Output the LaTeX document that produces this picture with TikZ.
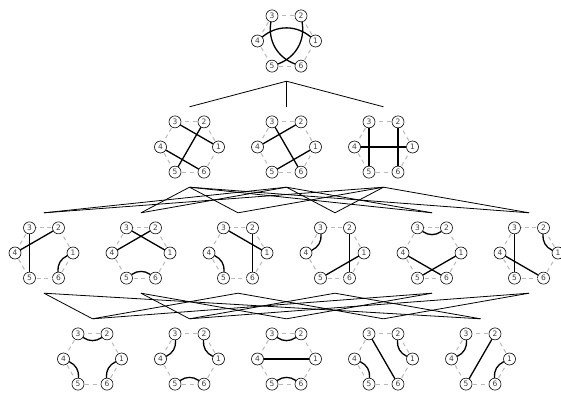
\documentclass[tikz,border=0pt]{standalone}
\usepackage{fontspec}
\setsansfont{DejaVu Sans}
\usepackage{tikz}
\usetikzlibrary{calc}

% one hexagon of six numbered points, named #1-1 ... #1-6
\newcommand{\hexgraph}[2]{%
  \node[graphbox] (#1) at (#2) {};
  \foreach \k in {1,...,6}
    \node[vtx] (#1-\k) at ($(#1)+({(\k-1)*60}:29pt)$) {\k};
  \foreach \k [evaluate=\k as \n using {int(mod(\k,6)+1)}] in {1,...,6}
    \draw[rim] (#1-\k) -- (#1-\n);
}

\begin{document}
\begin{tikzpicture}[x=1pt, y=-1pt,
  graphbox/.style={minimum width=70pt, minimum height=80pt, inner sep=0pt},
  vtx/.style={draw, circle, fill=white, minimum size=12pt, inner sep=0pt, line width=0.6pt,
    font=\sffamily\fontsize{7.5}{8}\selectfont, text=black!75},
  rim/.style={gray!55, line width=1pt, dash pattern=on 4pt off 3.5pt, dash phase=-1pt},
  chord/.style={line width=1.3pt},
  inbend/.style={bend left=35},
  longbend/.style={bend left=40},
  link/.style={line width=0.8pt}
]
  \useasboundingbox (0,0) rectangle (561,393);

  % Top
  \hexgraph{t}{286.5,41}
  \draw[chord] (t-4) to[longbend] (t-1);
  \draw[chord] (t-6) to[longbend] (t-3);
  \draw[chord] (t-2) to[longbend] (t-5);

  % Second row
  \hexgraph{a}{189.5,147}
  \foreach \p/\q in {1/3,2/5,4/6} \draw[chord] (a-\p) -- (a-\q);
  \hexgraph{b}{286.5,147}
  \foreach \p/\q in {3/6,2/4,1/5} \draw[chord] (b-\p) -- (b-\q);
  \hexgraph{c}{383.5,147}
  \foreach \p/\q in {3/5,2/6,4/1} \draw[chord] (c-\p) -- (c-\q);

  % Third row
  \hexgraph{g1}{44,253}
  \foreach \p/\q in {3/5,2/4} \draw[chord] (g1-\p) -- (g1-\q);
  \draw[chord] (g1-6) to[inbend] (g1-1);
  \hexgraph{g2}{141,253}
  \foreach \p/\q in {1/3,2/4} \draw[chord] (g2-\p) -- (g2-\q);
  \draw[chord] (g2-5) to[inbend] (g2-6);
  \hexgraph{g3}{238,253}
  \foreach \p/\q in {1/3,2/6} \draw[chord] (g3-\p) -- (g3-\q);
  \draw[chord] (g3-4) to[inbend] (g3-5);
  \hexgraph{g4}{335,253}
  \foreach \p/\q in {2/6,1/5} \draw[chord] (g4-\p) -- (g4-\q);
  \draw[chord] (g4-3) to[inbend] (g4-4);
  \hexgraph{g5}{432,253}
  \foreach \p/\q in {4/6,1/5} \draw[chord] (g5-\p) -- (g5-\q);
  \draw[chord] (g5-2) to[inbend] (g5-3);
  \hexgraph{g6}{529,253}
  \foreach \p/\q in {3/5,4/6} \draw[chord] (g6-\p) -- (g6-\q);
  \draw[chord] (g6-1) to[inbend] (g6-2);

  % Bottom row
  \hexgraph{h1}{92.5,359}
  \draw[chord] (h1-2) to[inbend] (h1-3);
  \draw[chord] (h1-4) to[inbend] (h1-5);
  \draw[chord] (h1-6) to[inbend] (h1-1);
  \hexgraph{h2}{189.5,359}
  \draw[chord] (h2-1) to[inbend] (h2-2);
  \draw[chord] (h2-3) to[inbend] (h2-4);
  \draw[chord] (h2-5) to[inbend] (h2-6);
  \hexgraph{h3}{286.5,359}
  \draw[chord] (h3-2) to[inbend] (h3-3);
  \draw[chord] (h3-5) to[inbend] (h3-6);
  \draw[chord] (h3-4) -- (h3-1);
  \hexgraph{h4}{383.5,359}
  \draw[chord] (h4-1) to[inbend] (h4-2);
  \draw[chord] (h4-4) to[inbend] (h4-5);
  \draw[chord] (h4-3) -- (h4-6);
  \hexgraph{h5}{480.5,359}
  \draw[chord] (h5-3) to[inbend] (h5-4);
  \draw[chord] (h5-6) to[inbend] (h5-1);
  \draw[chord] (h5-2) -- (h5-5);

  % Links between rows
  \foreach \u/\v in {t/a, t/b, t/c,
                     a/g2, a/g3, a/g5, a/g6, b/g1, b/g2, b/g4, b/g5, c/g1, c/g3, c/g4, c/g6,
                     g1/h1, g1/h5, g2/h2, g2/h3, g3/h1, g3/h4, g4/h2, g4/h5, g5/h1, g5/h3, g6/h2, g6/h4}
    \draw[link] (\u.south) -- (\v.north);
\end{tikzpicture}
\end{document}
